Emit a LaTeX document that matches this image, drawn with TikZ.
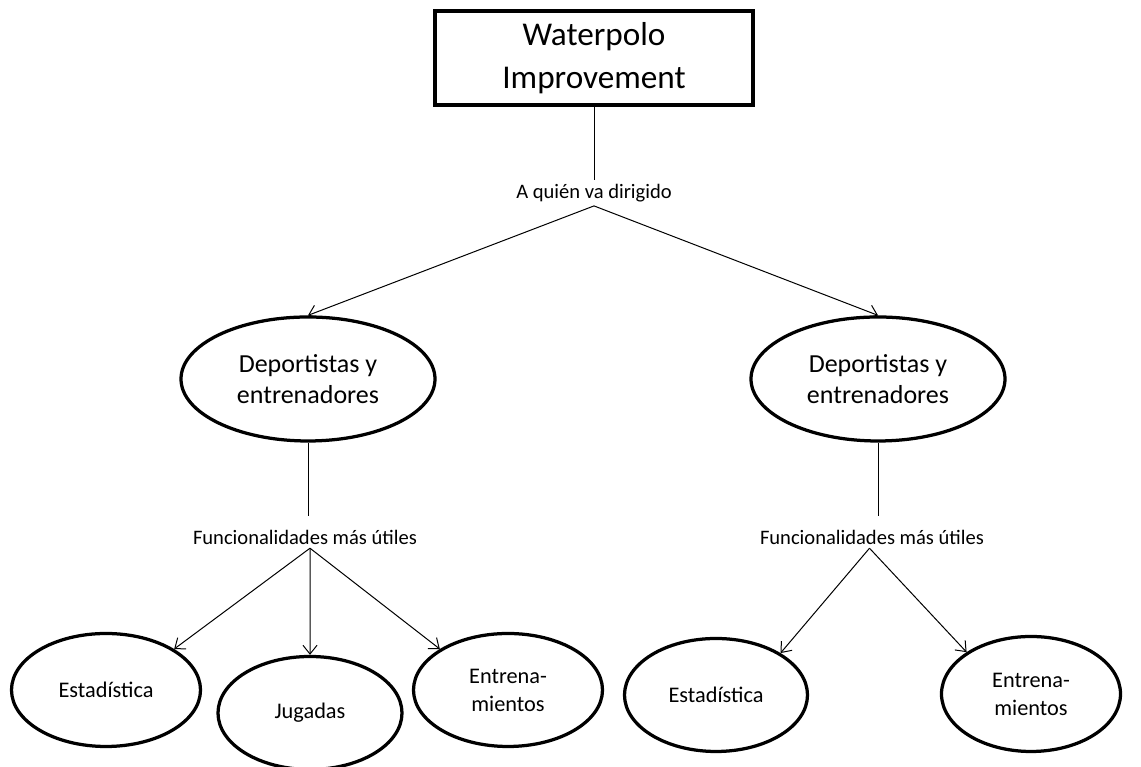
\documentclass[tikz,border=0pt]{standalone}
\usepackage{fontspec}
\setmainfont{Carlito}
\usetikzlibrary{arrows.meta}
\usetikzlibrary{shapes.geometric}

\begin{document}
\begin{tikzpicture}[line width=0.2mm,
  titlebox/.style={draw,line width=0.8mm,minimum width=6.36cm,minimum height=1.88cm,align=center,font=\fontsize{18.9}{24.4}\selectfont},
  bigell/.style={draw,ellipse,line width=0.65mm,minimum width=5.08cm,minimum height=2.48cm,align=center,font=\fontsize{14.8}{18}\selectfont},
  smallell/.style={draw,ellipse,line width=0.65mm,minimum width=3.78cm,minimum height=2.26cm,align=center,font=\fontsize{12.7}{15.9}\selectfont},
  lbl/.style={font=\fontsize{11.7}{14}\selectfont,inner sep=2pt},
  arr/.style={-{Straight Barb[length=5pt,width=8pt]}}]
\useasboundingbox (0,0) rectangle (22.82,15.34);

\node[titlebox] (title) at (11.88,14.18) {Waterpolo\\Improvement};
\node[lbl] (quien) at (11.88,11.48) {A quién va dirigido};

\node[bigell] (depL) at (6.16,7.76) {Deportistas y\\entrenadores};
\node[bigell] (depR) at (17.56,7.76) {Deportistas y\\entrenadores};

\node[lbl] (funcL) at (6.10,4.60) {Funcionalidades más útiles};
\node[lbl] (funcR) at (17.44,4.60) {Funcionalidades más útiles};
\coordinate (fromL) at ([xshift=0.1cm]funcL.south);
\coordinate (fromR) at ([xshift=-0.05cm]funcR.south);

\node[smallell] (estL) at (2.12,1.54) {Estadística};
\node[smallell,minimum width=3.68cm] (jugL) at (6.20,1.08) {Jugadas};
\node[smallell] (entL) at (10.16,1.54) {Entrena-\\mientos};
\node[smallell,minimum width=3.66cm] (estR) at (14.32,1.44) {Estadística};
\node[smallell,minimum width=3.58cm,minimum height=2.30cm] (entR) at (20.62,1.46) {Entrena-\\mientos};

\draw (title.south) -- (quien.north);
\draw[arr] (quien.south) -- (depL.north);
\draw[arr] (quien.south) -- (depR.north);

\draw (depL.south) -- ([yshift=0.2cm]depL.south |- funcL.north);
\draw (depR.south) -- ([yshift=0.2cm]depR.south |- funcR.north);

% funcionalidades
\draw[arr] (fromL) -- (estL.31);
\draw[arr] (fromL) -- (jugL.north);
\draw[arr] (fromL) -- (entL.149);
\draw[arr] (fromR) -- (estR.33);
\draw[arr] (fromR) -- (entR.147);

\end{tikzpicture}
\end{document}
